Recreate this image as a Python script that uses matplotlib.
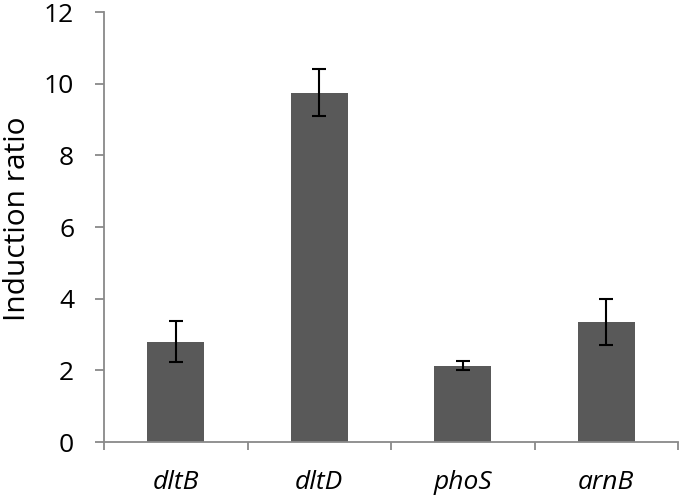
import matplotlib
matplotlib.use("Agg")
import matplotlib.pyplot as plt
import numpy as np

categories = ["dltB", "dltD", "phoS", "arnB"]
values = [2.80, 9.75, 2.13, 3.36]
errors = [0.57, 0.65, 0.12, 0.64]
yticks = [0, 2, 4, 6, 8, 10, 12]

plt.rcParams['font.family'] = ['Open Sans', 'DejaVu Sans']

fig = plt.figure(figsize=(6.8, 4.97), dpi=100)
ax = fig.add_axes([104/680, 1-442/497, (678-104)/680, (442-12)/497])

x = np.arange(len(categories))
ax.bar(x, values, width=0.40, color="#595959", zorder=2)
ax.errorbar(x, values, yerr=errors, fmt="none", ecolor="black",
            elinewidth=1.5, capsize=4.8, capthick=1.5, zorder=3)

ax.set_xlim(-0.5, len(categories) - 0.5)
ax.set_ylim(0, 12)
ax.set_yticks(yticks)
ax.set_yticklabels([str(v) for v in yticks], fontsize=19)
ax.set_xticks(x)
ax.set_xticklabels(categories, fontsize=19, style="italic")
ax.set_xticks(np.arange(-0.5, len(categories), 1.0), minor=True)

spine_c = "#898989"
for s in ["top", "right"]:
    ax.spines[s].set_visible(False)
for s in ["left", "bottom"]:
    ax.spines[s].set_color(spine_c)
    ax.spines[s].set_linewidth(1.3)

ax.tick_params(axis="y", direction="out", length=6.5, width=1.3, color=spine_c, pad=15)
ax.tick_params(axis="x", which="major", length=0, pad=20)
ax.tick_params(axis="x", which="minor", direction="out", length=6, width=1.3, color=spine_c)

ax.set_ylabel("Induction ratio", fontsize=21.5)
ax.yaxis.set_label_coords(-0.1254, 0.52)

fig.savefig("out.png", dpi=100)
